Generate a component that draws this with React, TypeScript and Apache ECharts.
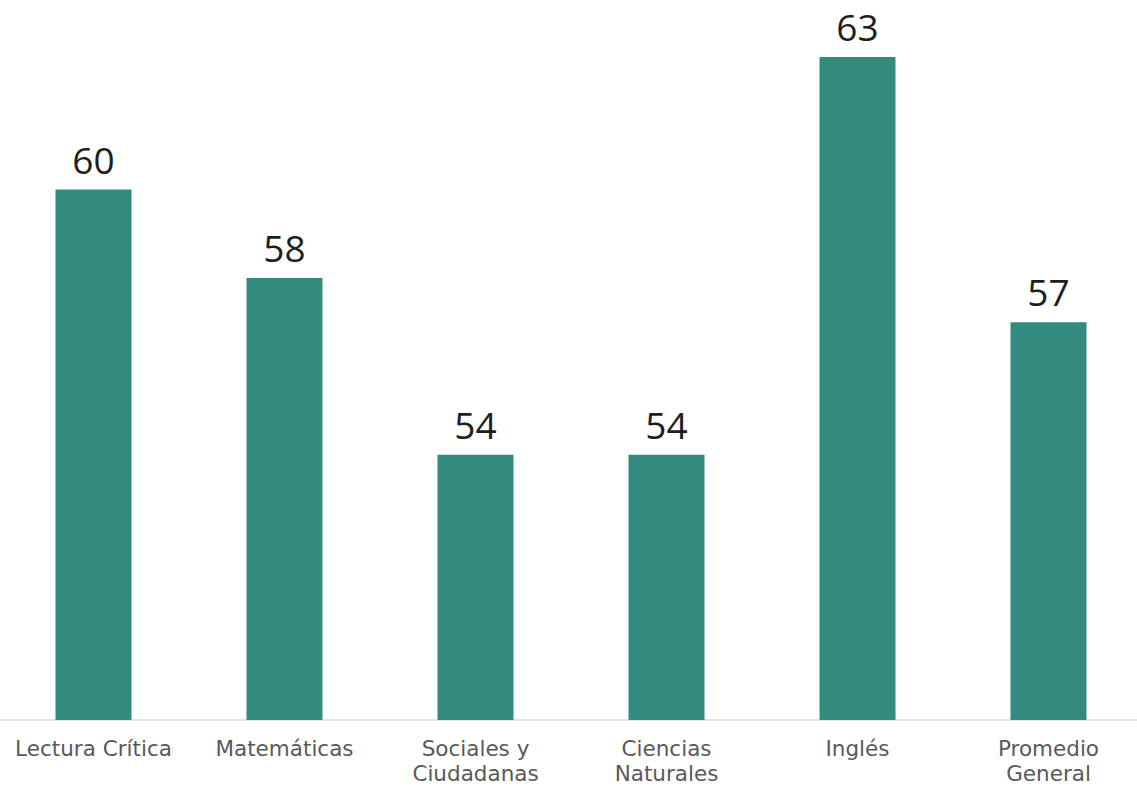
import React, { useEffect, useRef } from "react";
import * as echarts from "echarts";

const categories = [
  "Lectura Crítica",
  "Matemáticas",
  "Sociales y\nCiudadanas",
  "Ciencias\nNaturales",
  "Inglés",
  "Promedio\nGeneral",
];
const values = [60, 58, 54, 54, 63, 57];

export default function App() {
  const ref = useRef<HTMLDivElement>(null);
  useEffect(() => {
    document.body.style.margin = "0";
    document.documentElement.style.overflow = "hidden";
    document.body.style.overflow = "hidden";
    const chart = echarts.init(ref.current!, undefined, { renderer: "svg" });
    chart.setOption({
      animation: false,
      backgroundColor: "#ffffff",
      grid: { left: 0, top: 12.7, right: 0, bottom: 64, containLabel: false },
      xAxis: {
        type: "category",
        data: categories,
        axisLine: { show: true, lineStyle: { color: "#e3e3e3", width: 2 } },
        axisTick: { show: false },
        axisLabel: {
          interval: 0,
          color: "#595959",
          fontFamily: "DejaVu Sans",
          fontSize: 21.5,
          lineHeight: 25,
          margin: 16,
        },
      },
      yAxis: {
        type: "value",
        min: 48,
        max: 64,
        show: false,
        splitLine: { show: false },
      },
      series: [
        {
          type: "bar",
          data: values,
          barWidth: 76,
          itemStyle: { color: "#338b80" },
          label: {
            show: true,
            position: "top",
            distance: 12,
            color: "#1e1e1e",
            fontFamily: "Open Sans",
            fontSize: 37,
          },
        },
      ],
    });
    return () => chart.dispose();
  }, []);
  return (
    <div
      ref={ref}
      style={{ position: "absolute", left: -2, top: 0, width: 1146, height: 786 }}
    />
  );
}
